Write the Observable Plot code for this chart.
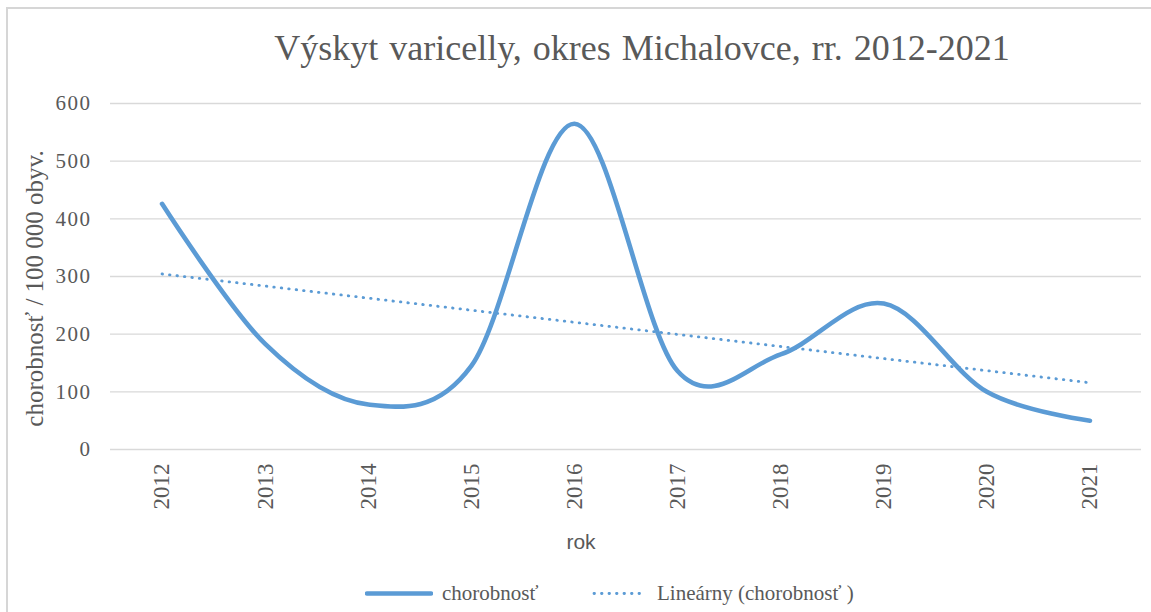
<!DOCTYPE html>
<html>
<head>
<meta charset="utf-8">
<script src="https://cdn.jsdelivr.net/npm/d3@7"></script>
<script src="https://cdn.jsdelivr.net/npm/@observablehq/plot@0.6"></script>
<style>
  body { margin: 0; background: #fff; }
  #chart { position: relative; width: 1151px; height: 612px; overflow: hidden; background: #fff; font-family: "Liberation Serif", "Times New Roman", serif; color: #595959; }
  #frame { position: absolute; left: 6px; top: 7px; width: 1150px; height: 610px; border: 2px solid #d6d6d6; box-sizing: border-box; pointer-events: none; z-index: 5; }
  #title { position: relative; height: 80px; box-sizing: border-box; padding-top: 30px; padding-left: 133px; text-align: center; font-size: 36px; line-height: 36px; word-spacing: 2px; white-space: nowrap; }
  #plot { position: relative; height: 480px; }
  #plot svg { display: block; }
  #legend { position: relative; height: 52px; font-size: 21px; }
  .item { position: absolute; top: 33px; display: flex; align-items: center; transform: translateY(-50%); white-space: nowrap; }
  .item svg { display: block; margin-right: 9px; }
</style>
</head>
<body>
<div id="chart">
  <div id="frame"></div>
  <div id="title">Výskyt varicelly, okres Michalovce, rr. 2012-2021</div>
  <div id="plot"></div>
  <div id="legend"></div>
</div>
<script>
// ---- data ----
const years = [2012, 2013, 2014, 2015, 2016, 2017, 2018, 2019, 2020, 2021];
const chorobnost = [426, 183, 78, 145, 565, 136, 165, 253, 100, 50];
const yTicks = [0, 100, 200, 300, 400, 500, 600];
const xTicks = years;
const seriesName = "chorobnosť";
const trendName = "Lineárny (chorobnosť )";
const yLabel = "chorobnosť / 100 000 obyv.";
const xLabel = "rok";

const data = years.map((y, i) => ({year: y, value: chorobnost[i]}));

const lineColor = "#5B9BD5";
const textColor = "#595959";

const chart = Plot.plot({
  width: 1151,
  height: 480,
  marginTop: 23,
  marginBottom: 111,
  marginLeft: 110,
  marginRight: 10,
  style: {background: "transparent", color: textColor, fontFamily: "'Liberation Serif', 'Times New Roman', serif"},
  x: {type: "linear", domain: [years[0] - 0.5, years[years.length - 1] + 0.5], label: null},
  y: {domain: [0, 600], label: null},
  marks: [
    Plot.gridY(yTicks, {stroke: "#d9d9d9", strokeOpacity: 1, strokeWidth: 1.3}),
    Plot.axisY(yTicks, {tickSize: 0, tickPadding: 19, label: null, fontSize: 21, tickFormat: d => String(d)}),
    Plot.axisX(xTicks, {tickSize: 0, tickPadding: 14, label: null, fontSize: 23, tickRotate: -90, tickFormat: d => String(d), textAnchor: "end", lineAnchor: "middle"}),
    Plot.linearRegressionY(data, {x: "year", y: "value", ci: 0, stroke: lineColor, strokeWidth: 2.8, strokeDasharray: "0.5 7", strokeLinecap: "round"}),
    Plot.line(data, {x: "year", y: "value", curve: "cardinal", stroke: lineColor, strokeWidth: 4.6, strokeLinecap: "round", strokeLinejoin: "round"}),
    Plot.text([yLabel], {text: d => d, frameAnchor: "left", rotate: -90, dx: -76, dy: 12, fontSize: 25, fill: textColor, textAnchor: "middle", lineAnchor: "middle"}),
    Plot.text([xLabel], {text: d => d, frameAnchor: "bottom", dx: -45, dy: 93, fontSize: 21, fill: textColor, fontFamily: "'Liberation Sans', Arial, sans-serif", textAnchor: "middle", lineAnchor: "middle"})
  ]
});
document.getElementById("plot").appendChild(chart);

// letter spacing tweak to match the reference's wide tick digits
d3.select(chart).selectAll('g[aria-label="y-axis tick label"] text').style("letter-spacing", "1.5px");

// ---- legend ----
const legend = d3.select("#legend");
const items = [
  {label: seriesName, left: 365, w: 68, dash: null, sw: 4.6},
  {label: trendName, left: 592, w: 56, dash: "0.5 7", sw: 2.8}
];
for (const it of items) {
  const d = legend.append("div").attr("class", "item").style("left", it.left + "px");
  const s = d.append("svg").attr("width", it.w).attr("height", 10);
  s.append("line").attr("x1", 2).attr("x2", it.w - 2).attr("y1", 5).attr("y2", 5)
    .attr("stroke", lineColor).attr("stroke-width", it.sw).attr("stroke-linecap", "round")
    .attr("stroke-dasharray", it.dash);
  d.append("span").text(it.label);
}
</script>
</body>
</html>
